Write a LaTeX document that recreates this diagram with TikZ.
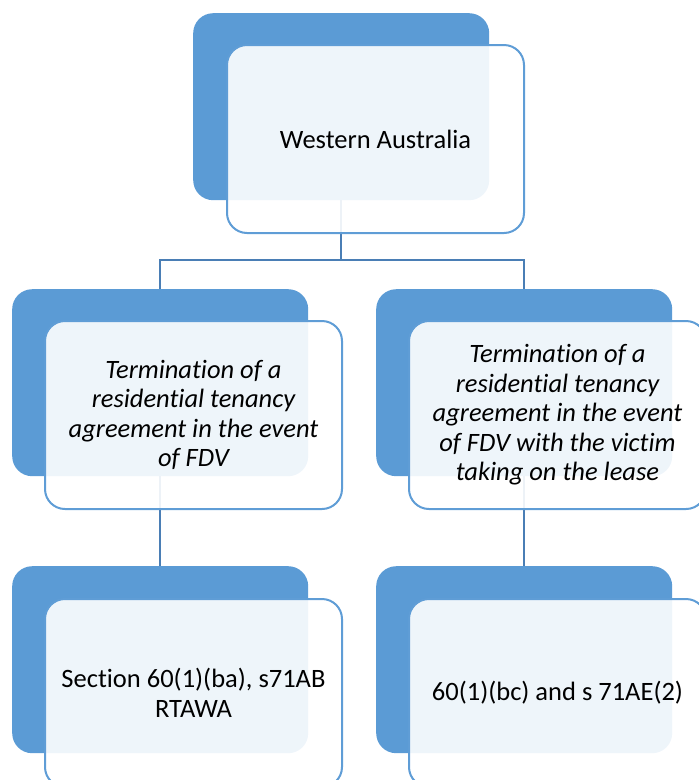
\documentclass[tikz,border=0pt]{standalone}
\usepackage{fontspec}
\setmainfont{Carlito}[Ligatures={NoCommon,NoContextual}, Contextuals=NoAlternate]
\definecolor{backblue}{HTML}{5B9BD5}
\definecolor{frontline}{HTML}{5F9DD6}
\definecolor{linkblue}{HTML}{4A7EB5}
\begin{document}
\begin{tikzpicture}[x=1pt, y=-1pt,
	back/.style={rectangle, rounded corners=20pt, fill=backblue, inner sep=0pt,
		minimum width=296pt, minimum height=187pt, anchor=north west},
	front/.style={rectangle, rounded corners=20pt, draw=frontline, line width=2pt,
		fill=white, fill opacity=0.9, text opacity=1, inner sep=0pt, align=center,
		minimum width=297pt, minimum height=188pt, anchor=north west,
		font=\fontsize{26.5}{29.5}\selectfont},
	link/.style={draw=linkblue, line width=2pt}]
\useasboundingbox (0,0) rectangle (699,780);
%
\node [back] (wa-back)   at (193,13) {};
\node [back] (term-back) at (12,289) {};
\node [back] (lease-back) at (376,289) {};
\node [back] (sect-back) at (12,566) {};
\node [back] (bc-back)   at (376,566) {};
%
\draw [link] (wa-back.south) -- ++(0,60) -| (term-back.north);
\draw [link] (wa-back.south) -- ++(0,60) -| (lease-back.north);
\draw [link] (term-back.south) -- (sect-back.north);
\draw [link] (lease-back.south) -- (bc-back.north);
%
\node [front] (wa)    at (226,44) {Western Australia};
\node [front] (term)  at (44,320) {\itshape Termination of a\\ \itshape residential tenancy\\ \itshape agreement in the event\\ \itshape of FDV};
\node [front] (lease) at (408,320) {\itshape Termination of a\\ \itshape residential tenancy\\ \itshape agreement in the event\\ \itshape of FDV with the victim\\ \itshape taking on the lease};
\node [front] (sect)  at (44,598) {Section 60(1)(ba), s71AB\\ RTAWA};
\node [front] (bc)    at (408,598) {60(1)(bc) and s 71AE(2)};
\end{tikzpicture}
\end{document}
